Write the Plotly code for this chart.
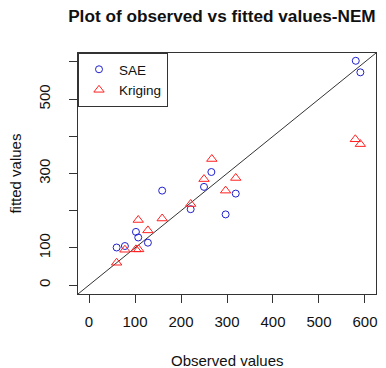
import plotly.graph_objects as go

# Data
sae_obs = [60, 78, 102, 107, 128, 159, 221, 250, 266, 297, 319, 580, 590]
sae_fit = [101, 105, 143, 128, 114, 254, 204, 264, 304, 190, 246, 603, 572]
krig_obs = [60, 78, 102, 108, 107, 128, 159, 221, 250, 267, 297, 319, 579, 590]
krig_fit = [60, 95, 96, 96, 175, 147, 179, 218, 285, 339, 254, 288, 392, 379]
tick_vals = [0, 100, 200, 300, 400, 500, 600]
x_tick_text = ["0", "100", "200", "300", "400", "500", "600"]
y_tick_text = ["0", "100", "", "300", "", "500", ""]
diag = [-100, 700]

FONT = "Liberation Sans, Arial, sans-serif"

fig = go.Figure()
fig.add_trace(go.Scatter(x=diag, y=diag, mode="lines",
                         line=dict(color="#333333", width=1),
                         showlegend=False, hoverinfo="skip"))
fig.add_trace(go.Scatter(x=sae_obs, y=sae_fit, mode="markers", name="SAE",
                         marker=dict(symbol="circle-open", size=7,
                                     color="#2020d0", line=dict(width=1))))
fig.add_trace(go.Scatter(x=krig_obs, y=krig_fit, mode="markers", name="Kriging",
                         marker=dict(symbol="triangle-up-open", size=9,
                                     color="#ff2020", line=dict(width=1))))

axis_common = dict(range=[-24, 624], showgrid=False, zeroline=False,
                   showline=True, linecolor="#333333", linewidth=1, mirror=True,
                   ticks="outside", ticklen=8, tickcolor="#333333",
                   tickvals=tick_vals,
                   tickfont=dict(family=FONT, size=15, color="#111111"))

fig.update_layout(
    width=386, height=368,
    margin=dict(l=78, r=10, t=52.5, b=74),
    paper_bgcolor="white", plot_bgcolor="white",
    title=dict(text="<b>Plot of observed vs fitted values-NEM</b>",
               x=0.483, xref="paper", xanchor="center",
               y=1 - 16 / 368, yref="container", yanchor="middle",
               font=dict(family=FONT, size=17.2, color="#111111")),
    xaxis=dict(**axis_common, ticktext=x_tick_text, ticklabelstandoff=6),
    yaxis=dict(**axis_common, ticktext=y_tick_text, tickangle=-90,
               ticklabelstandoff=13),
    legend=dict(x=0, y=1, xanchor="left", yanchor="top",
                bordercolor="#333333", borderwidth=1, bgcolor="white",
                font=dict(family=FONT, size=13.5, color="#111111"),
                itemwidth=30, tracegroupgap=0),
    annotations=[
        dict(text="Observed values", xref="paper", yref="paper",
             x=0.5, y=-0.277, xanchor="center", yanchor="middle",
             showarrow=False, font=dict(family=FONT, size=15, color="#111111")),
        dict(text="fitted values", xref="paper", yref="paper",
             x=-0.211, y=0.5, xanchor="center", yanchor="middle", textangle=-90,
             showarrow=False, font=dict(family=FONT, size=15, color="#111111")),
    ],
)

fig.write_html("out.html")
